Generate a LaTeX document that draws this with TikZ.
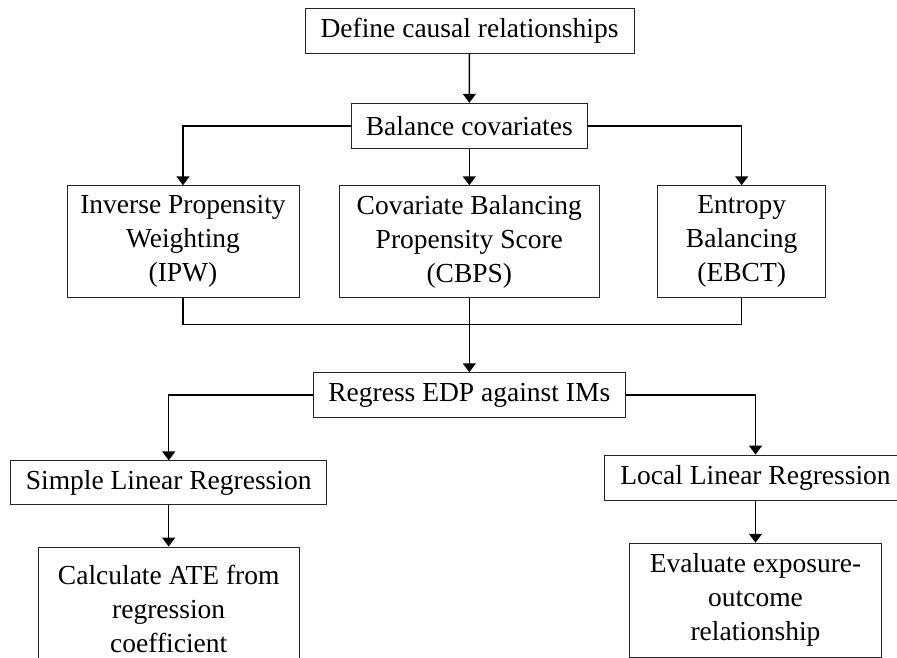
\documentclass[tikz,border=0pt]{standalone}
\usepackage{fontspec}
\setmainfont{Liberation Serif}
\usetikzlibrary{arrows.meta}

\begin{document}
\begin{tikzpicture}[x=1pt, y=-1pt]
\tikzstyle{box} = [draw=black!85, line width=0.9pt, inner sep=0pt, align=center,
  font=\fontsize{27.5}{34}\selectfont]
\tikzstyle{edge} = [draw=black, line width=1.5pt]
\tikzstyle{arrow} = [edge, -{Triangle[width=13pt,length=9pt]}]

\useasboundingbox (0,0) rectangle (897,658);
\clip (0,0) rectangle (897,658);

\node[box, minimum width=329pt, minimum height=45pt] (define) at (469.5,30.8) {Define causal relationships};
\node[box, minimum width=236pt, minimum height=45pt] (balance) at (469.3,125.8) {Balance covariates};

\node[box, minimum width=232pt, minimum height=112pt] (ipw) at (183,241.7) {Inverse Propensity\\Weighting\\(IPW)};
\node[box, minimum width=260pt, minimum height=112pt] (cbps) at (469.3,241.7) {Covariate Balancing\\Propensity Score\\(CBPS)};
\node[box, minimum width=168pt, minimum height=112pt] (ebct) at (741.7,241.7) {Entropy\\Balancing\\(EBCT)};

\coordinate (join) at (469.3,324.3);
\node[box, minimum width=312pt, minimum height=45pt] (regress) at (469.3,395.2) {Regress EDP against IMs};

\node[box, minimum width=316pt, minimum height=44pt] (simple) at (168.7,482.8) {Simple Linear Regression};
\node[box, minimum width=303pt, minimum height=45pt] (local) at (755.5,477.5) {Local Linear Regression};

\node[box, minimum width=261pt, minimum height=124pt] (calc) at (168.7,609) {Calculate ATE from\\regression\\coefficient};
\node[box, minimum width=252pt, minimum height=114pt] (evaluate) at (755.5,600.2) {Evaluate exposure-\\outcome\\relationship};

\draw[arrow] (define) -- (balance);
\draw[arrow] (balance.west) -| (ipw);
\draw[arrow] (balance) -- (cbps);
\draw[arrow] (balance.east) -| (ebct);

\draw[edge] (ipw) |- (join) -| (ebct);
\draw[arrow] (cbps) -- (regress);

\draw[arrow] (regress.west) -| (simple);
\draw[arrow] (regress.east) -| (local);
\draw[arrow] (simple) -- (calc);
\draw[arrow] (local) -- (evaluate);
\end{tikzpicture}
\end{document}
